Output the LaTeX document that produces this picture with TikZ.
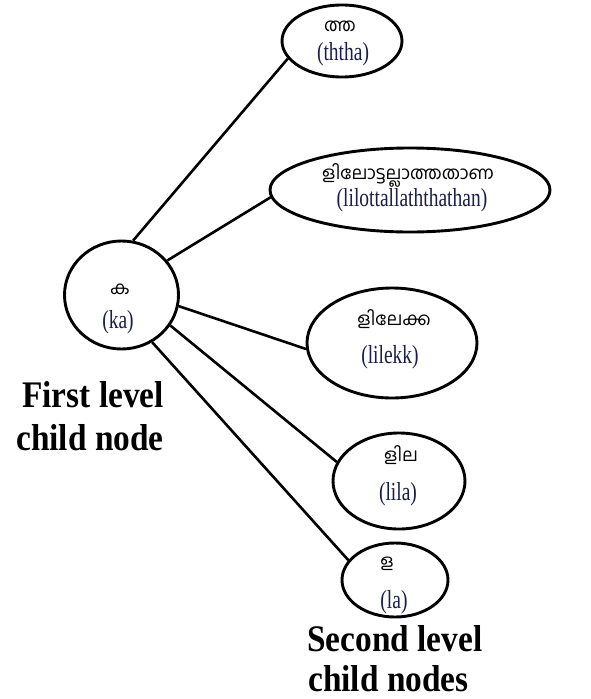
\documentclass[tikz,border=0pt]{standalone}
\usepackage{fontspec}
\usetikzlibrary{shapes.geometric}
\setmainfont{Liberation Serif}
\newfontfamily\mlfont[Script=Malayalam]{Hind Kochi}
\newfontfamily\trfont[FakeStretch=0.75]{Liberation Serif}
\newfontfamily\capfont[FakeStretch=0.89]{Liberation Serif}
\definecolor{trink}{RGB}{25,30,75}
\tikzset{
  bubble/.style={ellipse, draw=black, line width=2.9pt, inner sep=0pt},
  link/.style={draw=black, line width=2.6pt},
  mltext/.style={anchor=base, inner sep=0pt, font=\mlfont\fontsize{18}{18}\selectfont},
  trtext/.style={anchor=base, inner sep=0pt, text=trink, font=\trfont\fontsize{26}{26}\selectfont},
  caption/.style={anchor=base west, inner sep=0pt, font=\capfont\bfseries\fontsize{37.5}{37.5}\selectfont}
}
\begin{document}
\begin{tikzpicture}[x=1pt, y=-1pt]
  \useasboundingbox[fill=white] (0,0) rectangle (590,699);

  % parent node and its five children
  \node[bubble, minimum width=114pt, minimum height=108pt] (ka) at (121.5,295) {};
  \node[bubble, minimum width=120pt, minimum height=72pt] (ththa) at (342,41) {};
  \node[bubble, minimum width=280pt, minimum height=84pt] (lilo) at (410,190) {};
  \node[bubble, minimum width=170pt, minimum height=110pt] (lilekk) at (392,343) {};
  \node[bubble, minimum width=132pt, minimum height=96pt] (lila) at (399,481) {};
  \node[bubble, minimum width=106pt, minimum height=74pt] (la) at (395,580) {};

  % connectors
  \draw[link] (ka.78) -- (ththa.198);
  \draw[link] (ka.37) -- (lilo.183);
  \draw[link] (ka.-11) -- (lilekk.184);
  \draw[link] (ka.-32) -- (lila.163);
  \draw[link] (ka.-57) -- (la.157);

  % Malayalam words with transliterations
  \node[mltext] (ka-ml) at (120,294) {ക};
  \node[trtext] (ka-tr) at (118,328) {(ka)};
  \node[mltext] (ththa-ml) at (340,31) {ത്ത};
  \node[trtext] (ththa-tr) at (343,60) {(ththa)};
  \node[mltext] (lilo-ml) at (408,179) {ളിലോട്ടല്ലാത്തതാണ};
  \node[trtext] (lilo-tr) at (412,206) {(lilottallaththathan)};
  \node[mltext] (lilekk-ml) at (394,325) {ളിലേക്ക};
  \node[trtext] (lilekk-tr) at (390,363) {(lilekk)};
  \node[mltext] (lila-ml) at (401,461) {ളില};
  \node[trtext] (lila-tr) at (398,500) {(lila)};
  \node[mltext] (la-ml) at (387,567) {ള};
  \node[trtext] (la-tr) at (394,608) {(la)};

  % level captions
  \node[caption] (first-a) at (22,407) {First level};
  \node[caption] (first-b) at (16,450) {child node};
  \node[caption] (second-a) at (307,651) {Second level};
  \node[caption] (second-b) at (308,691) {child nodes};
\end{tikzpicture}
\end{document}
